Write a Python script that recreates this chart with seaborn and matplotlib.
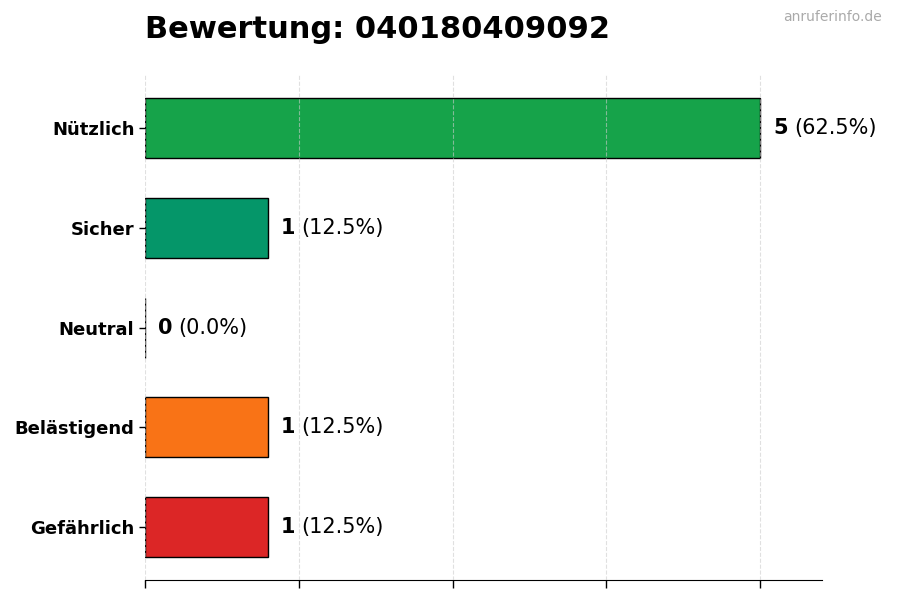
import matplotlib
matplotlib.use('Agg')
import matplotlib.pyplot as plt
import seaborn as sns
import pandas as pd
import numpy as np
from matplotlib.transforms import offset_copy

# --- Data ---
CATEGORIES = ['Nützlich', 'Sicher', 'Neutral', 'Belästigend', 'Gefährlich']
COUNTS = [5, 1, 0, 1, 1]
COLORS = ['#16a34a', '#059669', '#6b7280', '#f97316', '#dc2626']
TITLE = 'Bewertung: 040180409092'
WATERMARK = 'anruferinfo.de'

total = sum(COUNTS)
df = pd.DataFrame({'Kategorie': CATEGORIES, 'Anzahl': COUNTS})

sns.set_style('white')
plt.rcParams['font.family'] = ['DejaVu Sans']
plt.rcParams['text.color'] = 'black'
plt.rcParams['xtick.color'] = 'black'
plt.rcParams['ytick.color'] = 'black'
plt.rcParams['axes.labelcolor'] = 'black'

fig, ax = plt.subplots(figsize=(9, 6), dpi=100)
fig.subplots_adjust(left=0.161, right=0.913, top=0.875, bottom=0.033)

sns.barplot(
    data=df, x='Anzahl', y='Kategorie', hue='Kategorie',
    palette=COLORS, legend=False, orient='h', width=0.6,
    edgecolor='black', linewidth=1, saturation=1, ax=ax
)

ax.set_xlim(0, max(COUNTS) * 1.1)
ax.set_ylim(len(CATEGORIES) - 0.47, -0.53)
ax.set_xticks(np.linspace(0, max(COUNTS), 5))
ax.set_xticklabels([])
ax.set_xlabel('')
ax.set_ylabel('')
ax.tick_params(axis='x', length=6, width=1, color='black', bottom=True)
ax.tick_params(axis='y', length=4, width=1, color='black', left=True,
               labelsize=13, labelcolor='black')
for lbl in ax.get_yticklabels():
    lbl.set_fontweight('bold')

ax.grid(axis='x', linestyle='--', color='#cccccc', linewidth=0.8, alpha=0.6)
ax.set_axisbelow(False)
sns.despine(ax=ax, left=True, top=True, right=True)
ax.spines['bottom'].set_color('black')

# value labels: bold count + normal percent
fig.canvas.draw()
renderer = fig.canvas.get_renderer()
for i, c in enumerate(COUNTS):
    pct = c / total * 100
    trans = offset_copy(ax.transData, fig=fig, x=13, y=0, units='dots')
    t1 = ax.text(c, i, str(c), fontsize=15, fontweight='bold', color='black',
                 va='center', ha='left', transform=trans)
    w = t1.get_window_extent(renderer=renderer).width
    trans2 = offset_copy(ax.transData, fig=fig, x=13 + w + 6, y=0, units='dots')
    ax.text(c, i, f'({pct:.1f}%)', fontsize=15, color='black',
            va='center', ha='left', transform=trans2)

fig.text(0.161, 0.95, TITLE, fontsize=22, fontweight='bold', color='black',
         ha='left', va='center')
fig.text(0.98, 0.972, WATERMARK, fontsize=10, color='#aaaaaa', ha='right', va='center')

fig.savefig('out.png', dpi=100)
